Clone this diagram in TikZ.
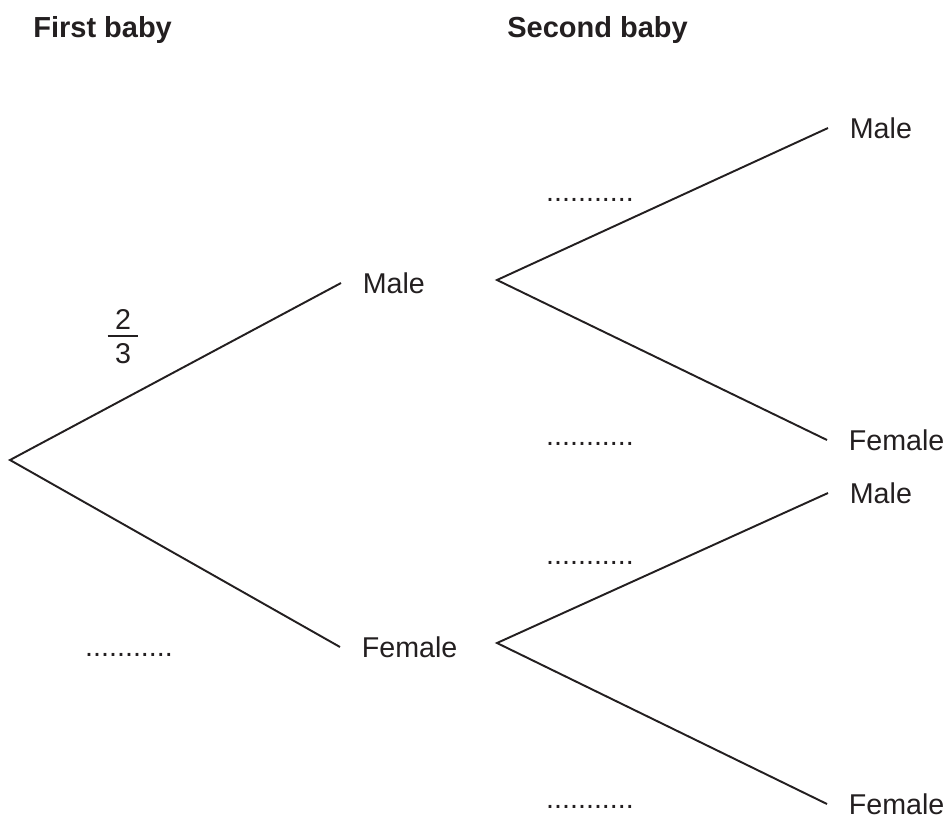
\documentclass[tikz,border=0pt]{standalone}
\usepackage{amsmath}
\usepackage{fontspec}
\setmainfont{Liberation Sans}
\usepackage{tikz}
\usetikzlibrary{positioning, calc}
\definecolor{inkcolor}{RGB}{35,31,32}

\begin{document}
\begin{tikzpicture}[
    x=0.02cm, y=-0.02cm,
    branch/.style={draw=inkcolor, line width=1.1pt, line join=miter},
    lbl/.style={anchor=west, inner xsep=0.43cm, inner ysep=0pt, font=\fontsize{16.3}{19}\selectfont, text=inkcolor},
    gap/.style={anchor=base, inner sep=0pt, font=\fontsize{16.3}{19}\selectfont, text=inkcolor},
    heading/.style={anchor=base west, inner sep=0pt, font=\fontsize{16.5}{19}\selectfont\bfseries, text=inkcolor}
]
    \useasboundingbox (0,0) rectangle (952,819);

    % Titres
    \node[heading] (firstHead) at (33,37) {First baby};
    \node[heading] (secondHead) at (507,37) {Second baby};

    % Premier bébé
    \coordinate (root) at (10,460);
    \node[lbl] (maleA) at (341,283) {Male};
    \node[lbl] (femaleA) at (340,647) {Female};
    \draw[branch] (maleA.west) -- (root) -- (femaleA.west);
    \node[inner sep=0pt, text=inkcolor, font=\fontsize{16.3}{19}\selectfont] (probMale) at (123,336.5) {%
        \vbox{\hbox to 17.6pt{\hss 2\hss}\kern 3.4pt\hrule height 0.8pt\kern 4pt\hbox to 17.6pt{\hss 3\hss}}};
    \node[gap] (gapFemale) at (129,656) {...........};

    % Second bébé après Male
    \coordinate (forkM) at (497,280);
    \node[lbl] (maleMM) at (828,128) {Male};
    \node[lbl] (femaleMF) at (827,440) {Female};
    \draw[branch] (maleMM.west) -- (forkM) -- (femaleMF.west);
    \node[gap] (gapMM) at (590,201) {...........};
    \node[gap] (gapMF) at (590,445) {...........};

    % Second bébé après Female
    \coordinate (forkF) at (497,643);
    \node[lbl] (maleFM) at (828,493) {Male};
    \node[lbl] (femaleFF) at (827,804) {Female};
    \draw[branch] (maleFM.west) -- (forkF) -- (femaleFF.west);
    \node[gap] (gapFM) at (590,564) {...........};
    \node[gap] (gapFF) at (590,808) {...........};
\end{tikzpicture}
\end{document}
